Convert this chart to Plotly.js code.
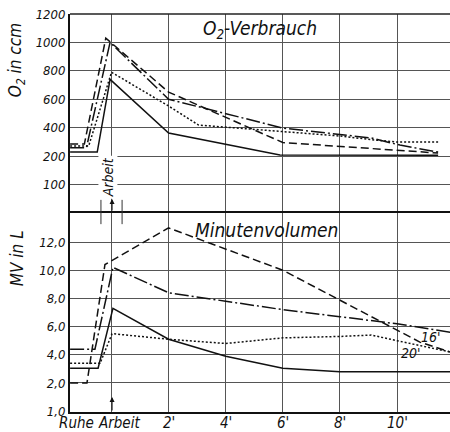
<!DOCTYPE html>
<html>
<head>
<meta charset="utf-8">
<script src="https://cdn.plot.ly/plotly-3.0.1.min.js"></script>
<style>html,body{margin:0;padding:0;background:#fff;}#chart{width:450px;height:432px;}</style>
</head>
<body>
<div id="chart"></div>
<script>
// ---- O2-Verbrauch (ccm), time in minutes relative to "Arbeit" ----
const tO2_dash = [-1.45, -0.95, -0.2, 2, 6, 11.44];
const o2_dash = [285, 285, 1030, 650, 295, 221];
const tO2_dashdot = [-1.45, -0.88, -0.05, 2, 6, 9.1, 10.1, 11.44];
const o2_dashdot = [258, 258, 1000, 600, 397, 327, 277, 228];
const tO2_dot = [-1.45, -0.8, 0, 2, 3.05, 6, 8, 9.2, 10, 11.44];
const o2_dot = [270, 270, 790, 552, 418, 369, 341, 313, 299, 299];
const tO2_solid = [-1.45, -0.5, -0.05, 2, 5.9, 11.44];
const o2_solid = [228, 228, 740, 362, 207, 205];

// ---- Minutenvolumen (L) ----
const tMV_dash = [-1.45, -0.86, -0.23, 2, 6, 8, 10.8, 11.86];
const mv_dash = [2.0, 2.0, 10.4, 13.0, 10.0, 7.9, 4.9, 4.2];
const tMV_dashdot = [-1.45, -0.58, 0.05, 2, 4, 6, 8, 10, 11.86];
const mv_dashdot = [4.4, 4.4, 10.2, 8.4, 7.8, 7.2, 6.7, 6.2, 5.6];
const tMV_dot = [-1.45, -0.4, 0.02, 2, 4, 6, 8, 9.1, 10, 11.86];
const mv_dot = [3.4, 3.4, 5.5, 5.1, 4.8, 5.2, 5.3, 5.4, 5.0, 4.2];
const tMV_solid = [-1.45, -0.47, 0.05, 2, 4, 6, 8, 11.86];
const mv_solid = [3.05, 3.05, 7.3, 5.1, 3.9, 3.05, 2.8, 2.8];

// ---- axis labels ----
const xTickVals = [0, 2, 4, 6, 8, 10];
const xTickText = ["", "2'", "4'", "6'", "8'", "10'"];
const xPhaseLabels = ["Ruhe", "Arbeit"];
const xPhasePos = [-1.22, 0.25];
const o2TickVals = [0, 200, 400, 600, 800, 1000, 1200];
const o2TickText = ["100", "200", "400", "600", "800", "1000", "1200"];
const mvTickVals = [0, 2, 4, 6, 8, 10, 12];
const mvTickText = ["1,0", "2,0", "4,0", "6,0", "8,0", "10,0", "12,0"];

const FONT = "DejaVu Sans Condensed, Liberation Sans Narrow, DejaVu Sans, sans-serif";
const INK = "#111";
const styles = {
  dash: "8px,4px",
  dashdot: "14px,3px,2px,3px",
  dot: "2px,2px",
  solid: "solid"
};

function tr(x, y, dash, yaxis) {
  return {x: x, y: y, yaxis: yaxis, xaxis: "x", mode: "lines", type: "scatter",
          line: {color: INK, width: 1.5, dash: dash}, hoverinfo: "skip", showlegend: false};
}

const data = [
  tr(tO2_dash, o2_dash, styles.dash, "y"),
  tr(tO2_dashdot, o2_dashdot, styles.dashdot, "y"),
  tr(tO2_dot, o2_dot, styles.dot, "y"),
  tr(tO2_solid, o2_solid, styles.solid, "y"),
  tr(tMV_dash, mv_dash, styles.dash, "y2"),
  tr(tMV_dashdot, mv_dashdot, styles.dashdot, "y2"),
  tr(tMV_dot, mv_dot, styles.dot, "y2"),
  tr(tMV_solid, mv_solid, styles.solid, "y2")
];

const mid = 200 / 398;
const tickFont = {family: FONT, size: 13, color: INK, style: "italic"};
const xLabFont = {family: FONT, size: 15, color: INK, style: "italic"};
const xLabY = -0.027;

const annotations = [
  {xref: "paper", yref: "paper", x: 0.5, y: 0.962, xanchor: "center", yanchor: "middle",
   text: "O<sub>2</sub>-Verbrauch", showarrow: false,
   font: {family: FONT, size: 19, color: INK, style: "italic"}},
  {xref: "paper", yref: "paper", x: 0.516, y: 0.457, xanchor: "center", yanchor: "middle",
   text: "Minutenvolumen", showarrow: false,
   font: {family: FONT, size: 19, color: INK, style: "italic"}},
  {xref: "paper", yref: "paper", x: -0.139, y: 0.8845, xanchor: "center", yanchor: "middle",
   text: "O<sub>2</sub> in ccm", showarrow: false, textangle: -90,
   font: {family: FONT, size: 17, color: INK, style: "italic"}},
  {xref: "paper", yref: "paper", x: -0.139, y: 0.387, xanchor: "center", yanchor: "middle",
   text: "MV in L", showarrow: false, textangle: -90,
   font: {family: FONT, size: 17, color: INK, style: "italic"}},
  {xref: "x", yref: "paper", x: -0.12, y: 0.59, xanchor: "center", yanchor: "middle",
   text: "Arbeit", showarrow: false, textangle: -90,
   font: {family: FONT, size: 14, color: INK, style: "italic"}, bgcolor: "#fff"},
  {xref: "x", yref: "paper", x: 0.02, y: 0.535, text: "", showarrow: true, ax: 0, ay: 13,
   arrowhead: 2, arrowsize: 1, arrowwidth: 1, arrowcolor: INK},
  {xref: "x", yref: "paper", x: 0.02, y: 0.0377, text: "", showarrow: true, ax: 0, ay: 15,
   arrowhead: 2, arrowsize: 1, arrowwidth: 1, arrowcolor: INK},
  {xref: "x", yref: "y2", x: 11.19, y: 5.26, xanchor: "center", yanchor: "middle", text: "16'", showarrow: false,
   font: {family: FONT, size: 14, color: INK, style: "italic"}},
  {xref: "x", yref: "y2", x: 10.46, y: 4.13, xanchor: "center", yanchor: "middle", text: "20'", showarrow: false,
   font: {family: FONT, size: 14, color: INK, style: "italic"}}
];
xPhaseLabels.forEach(function (lab, i) {
  annotations.push({xref: "x", yref: "paper", x: xPhasePos[i], y: xLabY, xanchor: "center", yanchor: "middle",
    text: lab, showarrow: false, font: xLabFont});
});
xTickVals.forEach(function (v, i) {
  if (xTickText[i]) {
    annotations.push({xref: "x", yref: "paper", x: v, y: xLabY, xanchor: "center", yanchor: "middle",
      text: xTickText[i], showarrow: false, font: xLabFont});
  }
});

const layout = {
  width: 450, height: 432,
  margin: {l: 70, r: 0, t: 14, b: 20},
  paper_bgcolor: "#fff", plot_bgcolor: "#fff",
  showlegend: false,
  xaxis: {
    range: [-1.454, 11.856], anchor: "y2", domain: [0, 1],
    tickvals: xTickVals, showticklabels: false, ticks: "",
    showgrid: true, gridcolor: "#555", gridwidth: 1, zeroline: false,
    showline: true, linecolor: INK, linewidth: 2
  },
  yaxis: {
    domain: [mid, 1], anchor: "x", range: [-194, 1200],
    tickvals: o2TickVals, ticktext: o2TickText, ticks: "",
    showgrid: true, gridcolor: "#555", gridwidth: 1, zeroline: false,
    showline: true, linecolor: INK, linewidth: 2,
    tickfont: tickFont
  },
  yaxis2: {
    domain: [0, mid], anchor: "x", range: [-0.06, 14.13],
    tickvals: mvTickVals, ticktext: mvTickText, ticks: "",
    showgrid: true, gridcolor: "#555", gridwidth: 1, zeroline: false,
    showline: true, linecolor: INK, linewidth: 2,
    tickfont: tickFont
  },
  shapes: [
    {type: "line", xref: "paper", yref: "paper", x0: 0, x1: 1, y0: 1, y1: 1, line: {color: "#222", width: 1.5}},
    {type: "line", xref: "paper", yref: "paper", x0: 0, x1: 1, y0: mid, y1: mid, line: {color: INK, width: 2}},
    {type: "line", xref: "x", yref: "paper", x0: -0.37, x1: -0.37, y0: 0.472, y1: 0.533, line: {color: "#333", width: 1}},
    {type: "line", xref: "x", yref: "paper", x0: 0.37, x1: 0.37, y0: 0.472, y1: 0.533, line: {color: "#333", width: 1}}
  ],
  annotations: annotations
};

Plotly.newPlot("chart", data, layout, {displayModeBar: false, staticPlot: true});
</script>
</body>
</html>
